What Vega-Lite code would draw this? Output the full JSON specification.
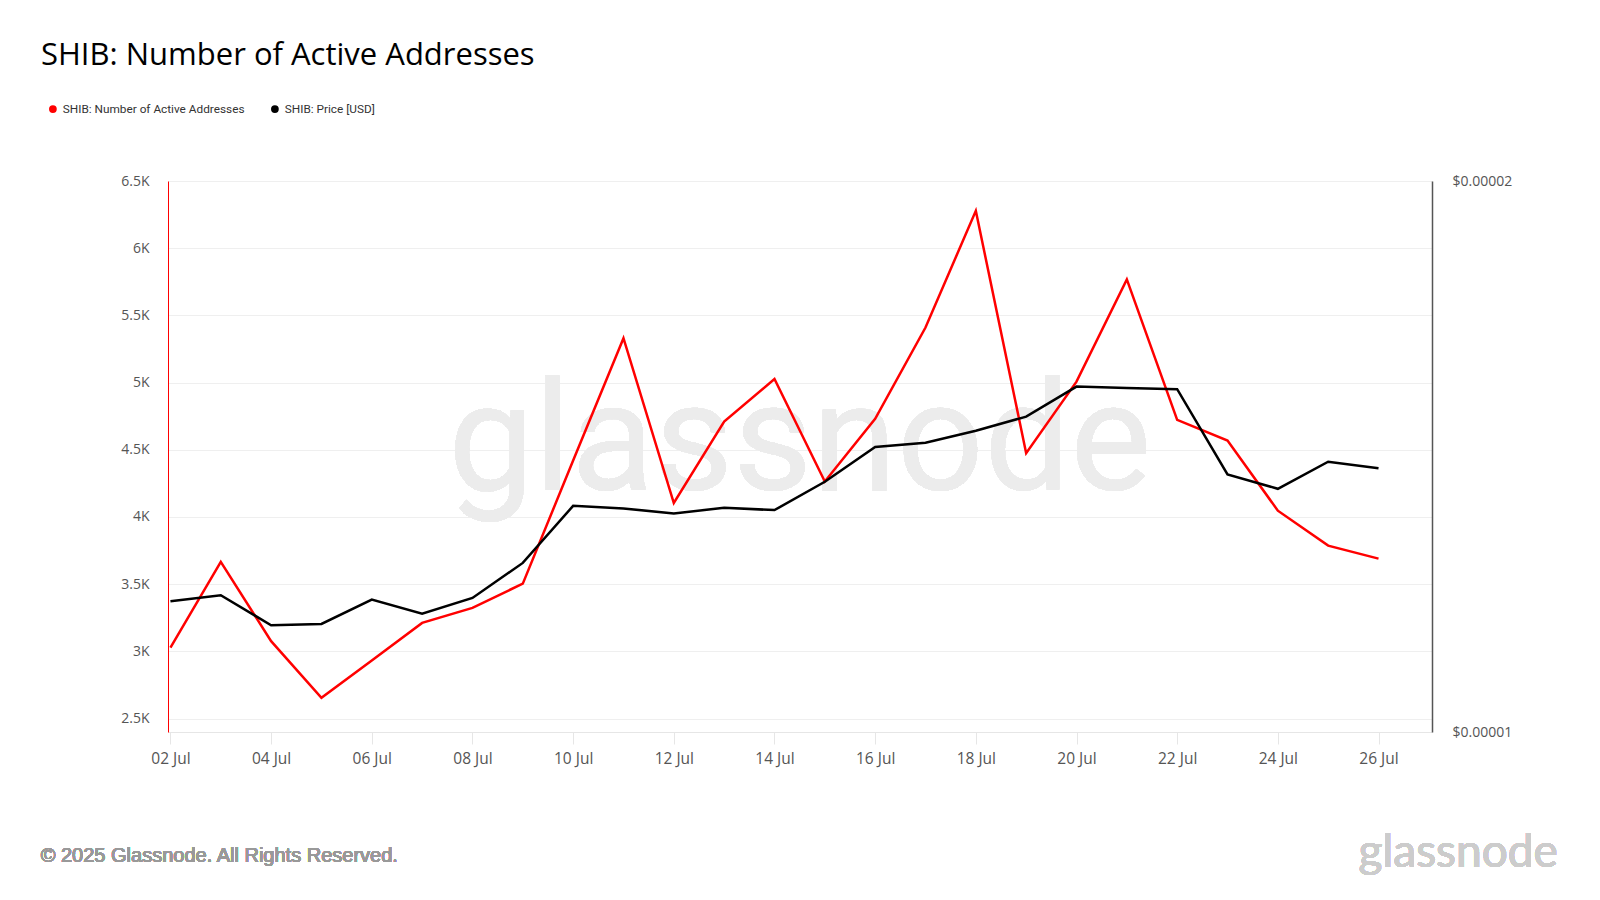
{
  "$schema": "https://vega.github.io/schema/vega-lite/v6.json",
  "width": 1264,
  "height": 551,
  "autosize": "none",
  "padding": {"left": 168, "top": 181, "right": 168, "bottom": 168},
  "background": "white",
  "title": {
    "text": "SHIB: Number of Active Addresses",
    "anchor": "start",
    "frame": "group",
    "font": "Open Sans",
    "fontSize": 31,
    "fontWeight": "normal",
    "color": "#000000",
    "dx": -127,
    "offset": 31
  },
  "config": {
    "view": {"stroke": null},
    "legend": {
      "orient": "none",
      "legendX": -121,
      "legendY": -78,
      "direction": "horizontal",
      "symbolType": "circle",
      "symbolSize": 60,
      "symbolStrokeWidth": 0,
      "labelFont": "Roboto",
      "labelFontSize": 11.8,
      "labelColor": "#333333",
      "labelLimit": 0,
      "labelOffset": 4,
      "columnPadding": 24,
      "title": null
    }
  },
  "data": {
    "values": [
      {"date": "2025-07-02", "addresses": 3027, "price": 0.000011787},
      {"date": "2025-07-03", "addresses": 3666, "price": 0.000011877},
      {"date": "2025-07-04", "addresses": 3076, "price": 0.000011437},
      {"date": "2025-07-05", "addresses": 2655, "price": 0.000011456},
      {"date": "2025-07-06", "addresses": 2932, "price": 0.000011813},
      {"date": "2025-07-07", "addresses": 3212, "price": 0.000011606},
      {"date": "2025-07-08", "addresses": 3324, "price": 0.000011837},
      {"date": "2025-07-09", "addresses": 3504, "price": 0.000012370},
      {"date": "2025-07-10", "addresses": 4420, "price": 0.000013291},
      {"date": "2025-07-11", "addresses": 5330, "price": 0.000013248},
      {"date": "2025-07-12", "addresses": 4104, "price": 0.000013165},
      {"date": "2025-07-13", "addresses": 4710, "price": 0.000013258},
      {"date": "2025-07-14", "addresses": 5027, "price": 0.000013220},
      {"date": "2025-07-15", "addresses": 4264, "price": 0.000013700},
      {"date": "2025-07-16", "addresses": 4730, "price": 0.000014313},
      {"date": "2025-07-17", "addresses": 5410, "price": 0.000014390},
      {"date": "2025-07-18", "addresses": 6278, "price": 0.000014609},
      {"date": "2025-07-19", "addresses": 4475, "price": 0.000014870},
      {"date": "2025-07-20", "addresses": 5007, "price": 0.000015442},
      {"date": "2025-07-21", "addresses": 5768, "price": 0.000015416},
      {"date": "2025-07-22", "addresses": 4723, "price": 0.000015391},
      {"date": "2025-07-23", "addresses": 4569, "price": 0.000013828},
      {"date": "2025-07-24", "addresses": 4047, "price": 0.000013579},
      {"date": "2025-07-25", "addresses": 3787, "price": 0.000014050},
      {"date": "2025-07-26", "addresses": 3690, "price": 0.000013934}
    ]
  },
  "layer": [
    {
      "mark": {"type": "text", "text": "glassnode", "font": "Roboto", "fontSize": 153, "color": "#ececec", "align": "center", "baseline": "alphabetic"},
      "encoding": {
        "x": {
          "datum": {"year": 2025, "month": 7, "date": 14, "hours": 12, "utc": true},
          "type": "temporal",
          "scale": {"type": "utc", "domain": [{"year": 2025, "month": 7, "date": 1, "hours": 22, "minutes": 50, "utc": true}, {"year": 2025, "month": 7, "date": 27, "hours": 1, "minutes": 30, "utc": true}]}
        },
        "y": {"datum": 4204, "type": "quantitative", "scale": {"domain": [2400, 6500], "nice": false, "zero": false}, "axis": null}
      }
    },
    {
      "mark": {"type": "line", "color": "#ff0000", "strokeWidth": 2.5},
      "encoding": {
        "x": {
          "field": "date",
          "type": "temporal",
          "title": null,
          "scale": {"type": "utc", "domain": [{"year": 2025, "month": 7, "date": 1, "hours": 22, "minutes": 50, "utc": true}, {"year": 2025, "month": 7, "date": 27, "hours": 1, "minutes": 30, "utc": true}]},
          "axis": {
            "values": [
              {"year": 2025, "month": 7, "date": 2, "utc": true},
              {"year": 2025, "month": 7, "date": 4, "utc": true},
              {"year": 2025, "month": 7, "date": 6, "utc": true},
              {"year": 2025, "month": 7, "date": 8, "utc": true},
              {"year": 2025, "month": 7, "date": 10, "utc": true},
              {"year": 2025, "month": 7, "date": 12, "utc": true},
              {"year": 2025, "month": 7, "date": 14, "utc": true},
              {"year": 2025, "month": 7, "date": 16, "utc": true},
              {"year": 2025, "month": 7, "date": 18, "utc": true},
              {"year": 2025, "month": 7, "date": 20, "utc": true},
              {"year": 2025, "month": 7, "date": 22, "utc": true},
              {"year": 2025, "month": 7, "date": 24, "utc": true},
              {"year": 2025, "month": 7, "date": 26, "utc": true}
            ],
            "format": "%d %b",
            "grid": false,
            "labelFont": "Open Sans",
            "labelFontSize": 15.5,
            "labelColor": "#555555",
            "labelPadding": 7,
            "tickColor": "#e6e6e6",
            "tickSize": 12,
            "domainColor": "#e6e6e6"
          }
        },
        "y": {
          "field": "addresses",
          "type": "quantitative",
          "title": null,
          "scale": {"domain": [2400, 6500], "nice": false, "zero": false},
          "axis": {
            "orient": "left",
            "values": [2500, 3000, 3500, 4000, 4500, 5000, 5500, 6000, 6500],
            "labelExpr": "format(datum.value / 1000, '~g') + 'K'",
            "grid": true,
            "gridColor": "#efefef",
            "ticks": false,
            "domainColor": "#ff0000",
            "domainWidth": 1,
            "labelPadding": 19,
            "labelFont": "Open Sans",
            "labelFontSize": 14,
            "labelColor": "#555555"
          }
        },
        "color": {
          "datum": "SHIB: Number of Active Addresses",
          "scale": {"domain": ["SHIB: Number of Active Addresses", "SHIB: Price [USD]"], "range": ["#ff0000", "#000000"]},
          "legend": {
            "symbolType": "circle",
            "encode": {"symbols": {"update": {"fill": {"scale": "color", "field": "value"}, "strokeWidth": {"value": 0}}}}
          }
        }
      }
    },
    {
      "mark": {"type": "line", "color": "#000000", "strokeWidth": 2.5},
      "encoding": {
        "x": {
          "field": "date",
          "type": "temporal",
          "scale": {"type": "utc", "domain": [{"year": 2025, "month": 7, "date": 1, "hours": 22, "minutes": 50, "utc": true}, {"year": 2025, "month": 7, "date": 27, "hours": 1, "minutes": 30, "utc": true}]}
        },
        "y": {
          "field": "price",
          "type": "quantitative",
          "title": null,
          "scale": {"type": "log", "domain": [0.00001, 0.00002], "nice": false},
          "axis": {
            "orient": "right",
            "values": [0.00001, 0.00002],
            "format": "$.5f",
            "grid": false,
            "ticks": false,
            "domainColor": "#555555",
            "domainWidth": 1.5,
            "labelPadding": 20,
            "labelFont": "Open Sans",
            "labelFontSize": 14,
            "labelColor": "#555555"
          }
        },
        "color": {"datum": "SHIB: Price [USD]"}
      }
    },
    {
      "mark": {"type": "text", "text": "© 2025 Glassnode. All Rights Reserved.", "font": "Liberation Sans", "fontSize": 20, "color": "#999999", "align": "left", "baseline": "alphabetic"},
      "encoding": {
        "x": {
          "datum": {"year": 2025, "month": 6, "date": 29, "hours": 10, "minutes": 8, "utc": true},
          "type": "temporal",
          "scale": {"type": "utc", "domain": [{"year": 2025, "month": 7, "date": 1, "hours": 22, "minutes": 50, "utc": true}, {"year": 2025, "month": 7, "date": 27, "hours": 1, "minutes": 30, "utc": true}]}
        },
        "y": {"datum": 1436, "type": "quantitative", "scale": {"domain": [2400, 6500], "nice": false, "zero": false}, "axis": null}
      }
    },
    {
      "mark": {"type": "text", "text": "glassnode", "font": "Lato", "fontSize": 46, "color": "#cccccc", "align": "right", "baseline": "alphabetic"},
      "encoding": {
        "x": {
          "datum": {"year": 2025, "month": 7, "date": 29, "hours": 13, "minutes": 30, "utc": true},
          "type": "temporal",
          "scale": {"type": "utc", "domain": [{"year": 2025, "month": 7, "date": 1, "hours": 22, "minutes": 50, "utc": true}, {"year": 2025, "month": 7, "date": 27, "hours": 1, "minutes": 30, "utc": true}]}
        },
        "y": {"datum": 1399, "type": "quantitative", "scale": {"domain": [2400, 6500], "nice": false, "zero": false}, "axis": null}
      }
    }
  ],
  "resolve": {"scale": {"y": "independent"}}
}
